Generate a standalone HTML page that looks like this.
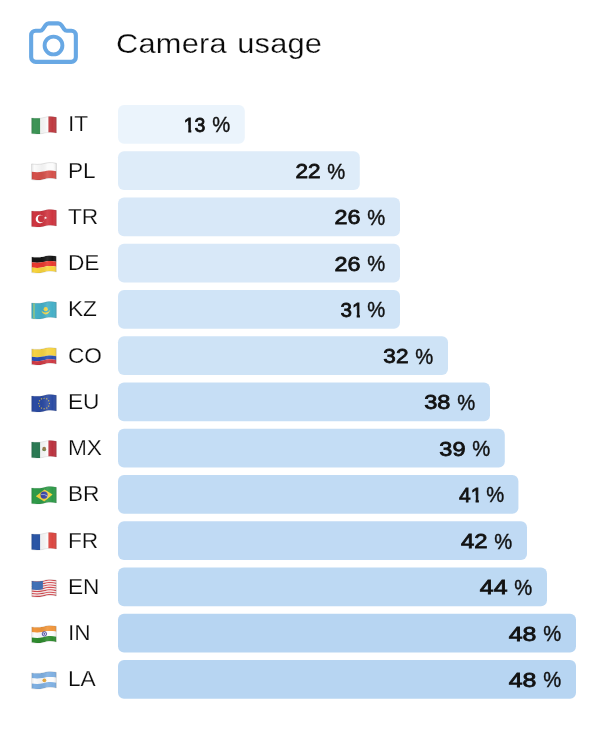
<!DOCTYPE html>
<html lang="en"><head><meta charset="utf-8"><title>Camera usage</title>
<style>
html,body{margin:0;padding:0;background:#fff}
body{width:600px;height:740px;position:relative;overflow:hidden;font-family:"Liberation Sans",sans-serif;color:#111}
.icon{position:absolute;left:27px;top:18px}
h1{position:absolute;left:116px;top:27.4px;margin:0;font-size:28.5px;line-height:32px;font-weight:400;letter-spacing:0.2px;word-spacing:1.6px;white-space:nowrap;color:#0a0a0a;-webkit-text-stroke:.25px #fff;transform:scaleX(1.08);transform-origin:0 50%}
.row{position:absolute;left:0;width:600px;height:38.75px}
.flag{position:absolute;left:30.5px;top:10px;overflow:visible;filter:blur(.3px)}
.lbl{position:absolute;left:68px;top:-.6px;height:38.75px;line-height:38.75px;font-size:22.7px;letter-spacing:-.1px;color:#0c0c0c;-webkit-text-stroke:.25px #fff;white-space:nowrap}
.bars{position:absolute;left:0;top:0}
.val{position:absolute;top:1.3px;height:38.75px;line-height:38.75px;font-size:21.5px;white-space:nowrap;color:#111;word-spacing:-.3px;-webkit-text-stroke:.4px #111}
.val b{display:inline-block;font-weight:400;font-size:20.2px;line-height:1;position:relative;top:-.5px;transform-origin:100% 50%;-webkit-text-stroke:.8px #111}
.val b.l1{clip-path:polygon(0 0,100% 0,100% 100%,.55em 100%,.55em .5em,.385em .5em,.385em 100%,.228em 100%,.228em .5em,0 .5em)}
.val b.t1{margin-right:-3.1px;clip-path:polygon(0 0,100% 0,100% .5em,.941em .5em,.941em 100%,.784em 100%,.784em .5em,.575em .5em,.575em 100%,0 100%)}
.val .pc{display:inline-block;transform:scaleX(.94);transform-origin:100% 50%}
</style></head><body>
<svg width="0" height="0" style="position:absolute"><defs><linearGradient id="shade" x1="0" y1="0" x2="1" y2="0"><stop offset="0" stop-color="#000" stop-opacity=".10"/><stop offset=".12" stop-color="#000" stop-opacity="0"/><stop offset=".38" stop-color="#000" stop-opacity=".04"/><stop offset=".6" stop-color="#fff" stop-opacity=".10"/><stop offset=".8" stop-color="#fff" stop-opacity="0"/><stop offset="1" stop-color="#000" stop-opacity=".22"/></linearGradient></defs></svg>
<svg class="icon" width="54" height="50" viewBox="27 18 54 50" fill="none" stroke="rgb(104,168,228)" stroke-width="4.1" stroke-linejoin="round" stroke-linecap="round">
<path d="M31.15 35.25a4.5 4.5 0 0 1 4.5-4.5H40.2q1.6 0 2.5-1.3L45.6 25.1q1.2-1.75 3.2-1.75H58.2q2 0 3.2 1.75L64.3 29.45q.9 1.3 2.5 1.3H71.35a4.5 4.5 0 0 1 4.5 4.5V57.35a4.5 4.5 0 0 1-4.5 4.5H35.65a4.5 4.5 0 0 1-4.5-4.5Z"/>
<circle cx="53.5" cy="45.5" r="8.9" stroke-width="3.9"/>
</svg>
<h1>Camera usage</h1>
<svg class="bars" width="600" height="740" viewBox="0 0 600 740" fill="rgb(104,168,228)"><rect x="118" y="105.00" width="126.8" height="38.75" rx="6" fill-opacity="0.13"/><rect x="118" y="151.25" width="241.8" height="38.75" rx="6" fill-opacity="0.22"/><rect x="118" y="197.50" width="282.0" height="38.75" rx="6" fill-opacity="0.26"/><rect x="118" y="243.75" width="282.0" height="38.75" rx="6" fill-opacity="0.26"/><rect x="118" y="290.00" width="282.0" height="38.75" rx="6" fill-opacity="0.31"/><rect x="118" y="336.25" width="330.0" height="38.75" rx="6" fill-opacity="0.32"/><rect x="118" y="382.50" width="372.0" height="38.75" rx="6" fill-opacity="0.38"/><rect x="118" y="428.75" width="386.8" height="38.75" rx="6" fill-opacity="0.39"/><rect x="118" y="475.00" width="400.4" height="38.75" rx="6" fill-opacity="0.41"/><rect x="118" y="521.25" width="409.0" height="38.75" rx="6" fill-opacity="0.42"/><rect x="118" y="567.50" width="429.0" height="38.75" rx="6" fill-opacity="0.44"/><rect x="118" y="613.75" width="458.0" height="38.75" rx="6" fill-opacity="0.48"/><rect x="118" y="660.00" width="458.0" height="38.75" rx="6" fill-opacity="0.48"/></svg>
<div class="row" style="top:105.00px">
<svg class="flag" viewBox="0 0 27 20" width="27" height="20"><defs><clipPath id="wit"><path d="M0.6 2.9C4.5 3.5 8 3.6 12 2.7S19.6 0.9 25.4 2.3L25.4 18C19.6 16.6 16 17.5 12 18.4S4.5 19.2 0.6 18.6Z"/></clipPath></defs><g clip-path="url(#wit)"><rect x="0" y="0" width="9.3" height="20" fill="#3d9556"/><rect x="9.3" y="0" width="8.1" height="20" fill="#fbfbfb"/><rect x="17.4" y="0" width="9.6" height="20" fill="#bf3a40"/><rect x="0" y="0" width="27" height="20" fill="url(#shade)"/></g><path d="M0.6 2.9C4.5 3.5 8 3.6 12 2.7S19.6 0.9 25.4 2.3L25.4 18C19.6 16.6 16 17.5 12 18.4S4.5 19.2 0.6 18.6Z" fill="none" stroke="#000" stroke-opacity="0.16" stroke-width=".5"/></svg>
<span class="lbl">IT</span>
<span class="val" style="right:369.8px"><b class="l1" style="transform:scaleX(0.965)">13</b> <span class="pc">%</span></span>
</div>
<div class="row" style="top:151.25px">
<svg class="flag" viewBox="0 0 27 20" width="27" height="20"><defs><clipPath id="wpl"><path d="M0.6 2.9C4.5 3.5 8 3.6 12 2.7S19.6 0.9 25.4 2.3L25.4 18C19.6 16.6 16 17.5 12 18.4S4.5 19.2 0.6 18.6Z"/></clipPath></defs><g clip-path="url(#wpl)"><path d="M0.6 2.9C4.5 3.5 8 3.6 12 2.7S19.6 0.9 25.4 2.3L25.4 10.15C19.6 8.75 16 9.65 12 10.55S4.5 11.35 0.6 10.75Z" fill="#fbfbfb"/><path d="M0.6 10.75C4.5 11.35 8 11.45 12 10.55S19.6 8.75 25.4 10.15L25.4 18C19.6 16.6 16 17.5 12 18.4S4.5 19.2 0.6 18.6Z" fill="#d5504a"/><rect x="0" y="0" width="27" height="20" fill="url(#shade)"/></g><path d="M0.6 2.9C4.5 3.5 8 3.6 12 2.7S19.6 0.9 25.4 2.3L25.4 18C19.6 16.6 16 17.5 12 18.4S4.5 19.2 0.6 18.6Z" fill="none" stroke="#000" stroke-opacity="0.22" stroke-width=".5"/></svg>
<span class="lbl">PL</span>
<span class="val" style="right:254.8px"><b style="transform:scaleX(1.115)">22</b> <span class="pc">%</span></span>
</div>
<div class="row" style="top:197.50px">
<svg class="flag" viewBox="0 0 27 20" width="27" height="20"><defs><clipPath id="wtr"><path d="M0.6 2.9C4.5 3.5 8 3.6 12 2.7S19.6 0.9 25.4 2.3L25.4 18C19.6 16.6 16 17.5 12 18.4S4.5 19.2 0.6 18.6Z"/></clipPath></defs><g clip-path="url(#wtr)"><rect width="27" height="20" fill="#cf3540"/><circle cx="9" cy="11" r="4.3" fill="#fff"/><circle cx="10.4" cy="10.8" r="3.45" fill="#cf3540"/><polygon points="14.1,8.23 14.71,9.26 15.9,9.1 15.11,10 15.62,11.08 14.52,10.6 13.65,11.43 13.77,10.24 12.72,9.66 13.89,9.4" fill="#fff"/><rect x="0" y="0" width="27" height="20" fill="url(#shade)"/></g><path d="M0.6 2.9C4.5 3.5 8 3.6 12 2.7S19.6 0.9 25.4 2.3L25.4 18C19.6 16.6 16 17.5 12 18.4S4.5 19.2 0.6 18.6Z" fill="none" stroke="#000" stroke-opacity="0.16" stroke-width=".5"/></svg>
<span class="lbl">TR</span>
<span class="val" style="right:214.6px"><b style="transform:scaleX(1.154)">26</b> <span class="pc">%</span></span>
</div>
<div class="row" style="top:243.75px">
<svg class="flag" viewBox="0 0 27 20" width="27" height="20"><defs><clipPath id="wde"><path d="M0.6 2.9C4.5 3.5 8 3.6 12 2.7S19.6 0.9 25.4 2.3L25.4 18C19.6 16.6 16 17.5 12 18.4S4.5 19.2 0.6 18.6Z"/></clipPath></defs><g clip-path="url(#wde)"><path d="M0.6 2.9C4.5 3.5 8 3.6 12 2.7S19.6 0.9 25.4 2.3L25.4 7.64C19.6 6.24 16 7.14 12 8.04S4.5 8.84 0.6 8.24Z" fill="#151515"/><path d="M0.6 8.24C4.5 8.84 8 8.94 12 8.04S19.6 6.24 25.4 7.64L25.4 12.82C19.6 11.42 16 12.32 12 13.22S4.5 14.02 0.6 13.42Z" fill="#e9392f"/><path d="M0.6 13.42C4.5 14.02 8 14.12 12 13.22S19.6 11.42 25.4 12.82L25.4 18C19.6 16.6 16 17.5 12 18.4S4.5 19.2 0.6 18.6Z" fill="#f8d43d"/><rect x="0" y="0" width="27" height="20" fill="url(#shade)"/></g><path d="M0.6 2.9C4.5 3.5 8 3.6 12 2.7S19.6 0.9 25.4 2.3L25.4 18C19.6 16.6 16 17.5 12 18.4S4.5 19.2 0.6 18.6Z" fill="none" stroke="#000" stroke-opacity="0.16" stroke-width=".5"/></svg>
<span class="lbl">DE</span>
<span class="val" style="right:214.6px"><b style="transform:scaleX(1.154)">26</b> <span class="pc">%</span></span>
</div>
<div class="row" style="top:290.00px">
<svg class="flag" viewBox="0 0 27 20" width="27" height="20"><defs><clipPath id="wkz"><path d="M0.6 2.9C4.5 3.5 8 3.6 12 2.7S19.6 0.9 25.4 2.3L25.4 18C19.6 16.6 16 17.5 12 18.4S4.5 19.2 0.6 18.6Z"/></clipPath></defs><g clip-path="url(#wkz)"><rect width="27" height="20" fill="#45b0c8"/><rect x="2.1" y="0" width="1.7" height="20" fill="#8cc48a"/><circle cx="14.7" cy="9.2" r="2.1" fill="#f7d545"/><path d="M10.4 10.6Q11.5 14.6 14.8 14.4Q18.2 14 19.3 9.8Q17.6 12.4 14.8 12.6Q12 12.8 10.4 10.6Z" fill="#f3d54a"/><rect x="0" y="0" width="27" height="20" fill="url(#shade)"/></g><path d="M0.6 2.9C4.5 3.5 8 3.6 12 2.7S19.6 0.9 25.4 2.3L25.4 18C19.6 16.6 16 17.5 12 18.4S4.5 19.2 0.6 18.6Z" fill="none" stroke="#000" stroke-opacity="0.16" stroke-width=".5"/></svg>
<span class="lbl">KZ</span>
<span class="val" style="right:214.6px"><b class="t1" style="transform:scaleX(1.021)">31</b> <span class="pc">%</span></span>
</div>
<div class="row" style="top:336.25px">
<svg class="flag" viewBox="0 0 27 20" width="27" height="20"><defs><clipPath id="wco"><path d="M0.6 2.9C4.5 3.5 8 3.6 12 2.7S19.6 0.9 25.4 2.3L25.4 18C19.6 16.6 16 17.5 12 18.4S4.5 19.2 0.6 18.6Z"/></clipPath></defs><g clip-path="url(#wco)"><path d="M0.6 2.9C4.5 3.5 8 3.6 12 2.7S19.6 0.9 25.4 2.3L25.4 10.15C19.6 8.75 16 9.65 12 10.55S4.5 11.35 0.6 10.75Z" fill="#f6d343"/><path d="M0.6 10.75C4.5 11.35 8 11.45 12 10.55S19.6 8.75 25.4 10.15L25.4 14.07C19.6 12.67 16 13.57 12 14.47S4.5 15.27 0.6 14.67Z" fill="#2a4fb2"/><path d="M0.6 14.67C4.5 15.27 8 15.37 12 14.47S19.6 12.67 25.4 14.07L25.4 18C19.6 16.6 16 17.5 12 18.4S4.5 19.2 0.6 18.6Z" fill="#cf3a44"/><rect x="0" y="0" width="27" height="20" fill="url(#shade)"/></g><path d="M0.6 2.9C4.5 3.5 8 3.6 12 2.7S19.6 0.9 25.4 2.3L25.4 18C19.6 16.6 16 17.5 12 18.4S4.5 19.2 0.6 18.6Z" fill="none" stroke="#000" stroke-opacity="0.16" stroke-width=".5"/></svg>
<span class="lbl">CO</span>
<span class="val" style="right:166.6px"><b style="transform:scaleX(1.117)">32</b> <span class="pc">%</span></span>
</div>
<div class="row" style="top:382.50px">
<svg class="flag" viewBox="0 0 27 20" width="27" height="20"><defs><clipPath id="weu"><path d="M0.6 2.9C4.5 3.5 8 3.6 12 2.7S19.6 0.9 25.4 2.3L25.4 18C19.6 16.6 16 17.5 12 18.4S4.5 19.2 0.6 18.6Z"/></clipPath></defs><g clip-path="url(#weu)"><rect width="27" height="20" fill="#2b4ba3"/><polygon points="13.1,4.25 13.33,4.88 14,4.91 13.48,5.32 13.66,5.97 13.1,5.6 12.54,5.97 12.72,5.32 12.2,4.91 12.87,4.88" fill="#f2cf45"/><polygon points="15.75,4.96 15.98,5.59 16.65,5.62 16.13,6.03 16.31,6.68 15.75,6.31 15.19,6.68 15.37,6.03 14.85,5.62 15.52,5.59" fill="#f2cf45"/><polygon points="17.69,6.9 17.92,7.53 18.59,7.56 18.07,7.97 18.25,8.62 17.69,8.25 17.13,8.62 17.31,7.97 16.79,7.56 17.46,7.53" fill="#f2cf45"/><polygon points="18.4,9.55 18.63,10.18 19.3,10.21 18.78,10.62 18.96,11.27 18.4,10.9 17.84,11.27 18.02,10.62 17.5,10.21 18.17,10.18" fill="#f2cf45"/><polygon points="17.69,12.2 17.92,12.83 18.59,12.86 18.07,13.27 18.25,13.92 17.69,13.55 17.13,13.92 17.31,13.27 16.79,12.86 17.46,12.83" fill="#f2cf45"/><polygon points="15.75,14.14 15.98,14.77 16.65,14.8 16.13,15.21 16.31,15.86 15.75,15.49 15.19,15.86 15.37,15.21 14.85,14.8 15.52,14.77" fill="#f2cf45"/><polygon points="13.1,14.85 13.33,15.48 14,15.51 13.48,15.92 13.66,16.57 13.1,16.2 12.54,16.57 12.72,15.92 12.2,15.51 12.87,15.48" fill="#f2cf45"/><polygon points="10.45,14.14 10.68,14.77 11.35,14.8 10.83,15.21 11.01,15.86 10.45,15.49 9.89,15.86 10.07,15.21 9.55,14.8 10.22,14.77" fill="#f2cf45"/><polygon points="8.51,12.2 8.74,12.83 9.41,12.86 8.89,13.27 9.07,13.92 8.51,13.55 7.95,13.92 8.13,13.27 7.61,12.86 8.28,12.83" fill="#f2cf45"/><polygon points="7.8,9.55 8.03,10.18 8.7,10.21 8.18,10.62 8.36,11.27 7.8,10.9 7.24,11.27 7.42,10.62 6.9,10.21 7.57,10.18" fill="#f2cf45"/><polygon points="8.51,6.9 8.74,7.53 9.41,7.56 8.89,7.97 9.07,8.62 8.51,8.25 7.95,8.62 8.13,7.97 7.61,7.56 8.28,7.53" fill="#f2cf45"/><polygon points="10.45,4.96 10.68,5.59 11.35,5.62 10.83,6.03 11.01,6.68 10.45,6.31 9.89,6.68 10.07,6.03 9.55,5.62 10.22,5.59" fill="#f2cf45"/><rect x="0" y="0" width="27" height="20" fill="url(#shade)"/></g><path d="M0.6 2.9C4.5 3.5 8 3.6 12 2.7S19.6 0.9 25.4 2.3L25.4 18C19.6 16.6 16 17.5 12 18.4S4.5 19.2 0.6 18.6Z" fill="none" stroke="#000" stroke-opacity="0.16" stroke-width=".5"/></svg>
<span class="lbl">EU</span>
<span class="val" style="right:124.6px"><b style="transform:scaleX(1.169)">38</b> <span class="pc">%</span></span>
</div>
<div class="row" style="top:428.75px">
<svg class="flag" viewBox="0 0 27 20" width="27" height="20"><defs><clipPath id="wmx"><path d="M0.6 2.9C4.5 3.5 8 3.6 12 2.7S19.6 0.9 25.4 2.3L25.4 18C19.6 16.6 16 17.5 12 18.4S4.5 19.2 0.6 18.6Z"/></clipPath></defs><g clip-path="url(#wmx)"><rect x="0" y="0" width="9.3" height="20" fill="#2c7b55"/><rect x="9.3" y="0" width="8.1" height="20" fill="#fafafa"/><rect x="17.4" y="0" width="9.6" height="20" fill="#bb323f"/><ellipse cx="13.2" cy="9.9" rx="1.9" ry="2.2" fill="#9a7a4a"/><path d="M11.2 10.6q2 2.4 4 0" stroke="#5d8f4a" stroke-width=".8" fill="none"/><rect x="0" y="0" width="27" height="20" fill="url(#shade)"/></g><path d="M0.6 2.9C4.5 3.5 8 3.6 12 2.7S19.6 0.9 25.4 2.3L25.4 18C19.6 16.6 16 17.5 12 18.4S4.5 19.2 0.6 18.6Z" fill="none" stroke="#000" stroke-opacity="0.16" stroke-width=".5"/></svg>
<span class="lbl">MX</span>
<span class="val" style="right:109.8px"><b style="transform:scaleX(1.164)">39</b> <span class="pc">%</span></span>
</div>
<div class="row" style="top:475.00px">
<svg class="flag" viewBox="0 0 27 20" width="27" height="20"><defs><clipPath id="wbr"><path d="M0.6 2.9C4.5 3.5 8 3.6 12 2.7S19.6 0.9 25.4 2.3L25.4 18C19.6 16.6 16 17.5 12 18.4S4.5 19.2 0.6 18.6Z"/></clipPath></defs><g clip-path="url(#wbr)"><rect width="27" height="20" fill="#2f9b49"/><polygon points="4.8,11.3 13.5,4.5 21.6,9.5 13.2,16.6" fill="#f4d23c"/><circle cx="13.1" cy="10.1" r="3.6" fill="#3a47a8"/><path d="M10.1 9.6Q13.6 8.6 16.9 11.4" stroke="#c9d2ee" stroke-width=".7" fill="none"/><rect x="0" y="0" width="27" height="20" fill="url(#shade)"/></g><path d="M0.6 2.9C4.5 3.5 8 3.6 12 2.7S19.6 0.9 25.4 2.3L25.4 18C19.6 16.6 16 17.5 12 18.4S4.5 19.2 0.6 18.6Z" fill="none" stroke="#000" stroke-opacity="0.16" stroke-width=".5"/></svg>
<span class="lbl">BR</span>
<span class="val" style="right:96.2px"><b class="t1" style="transform:scaleX(1.042)">41</b> <span class="pc">%</span></span>
</div>
<div class="row" style="top:521.25px">
<svg class="flag" viewBox="0 0 27 20" width="27" height="20"><defs><clipPath id="wfr"><path d="M0.6 2.9C4.5 3.5 8 3.6 12 2.7S19.6 0.9 25.4 2.3L25.4 18C19.6 16.6 16 17.5 12 18.4S4.5 19.2 0.6 18.6Z"/></clipPath></defs><g clip-path="url(#wfr)"><rect x="0" y="0" width="9.3" height="20" fill="#2b57a7"/><rect x="9.3" y="0" width="8.1" height="20" fill="#fafafa"/><rect x="17.4" y="0" width="9.6" height="20" fill="#db4640"/><rect x="0" y="0" width="27" height="20" fill="url(#shade)"/></g><path d="M0.6 2.9C4.5 3.5 8 3.6 12 2.7S19.6 0.9 25.4 2.3L25.4 18C19.6 16.6 16 17.5 12 18.4S4.5 19.2 0.6 18.6Z" fill="none" stroke="#000" stroke-opacity="0.16" stroke-width=".5"/></svg>
<span class="lbl">FR</span>
<span class="val" style="right:87.6px"><b style="transform:scaleX(1.183)">42</b> <span class="pc">%</span></span>
</div>
<div class="row" style="top:567.50px">
<svg class="flag" viewBox="0 0 27 20" width="27" height="20"><defs><clipPath id="wen"><path d="M0.6 2.9C4.5 3.5 8 3.6 12 2.7S19.6 0.9 25.4 2.3L25.4 18C19.6 16.6 16 17.5 12 18.4S4.5 19.2 0.6 18.6Z"/></clipPath></defs><g clip-path="url(#wen)"><path d="M0.6 2.9C4.5 3.5 8 3.6 12 2.7S19.6 0.9 25.4 2.3L25.4 3.59C19.6 2.19 16 3.09 12 3.99S4.5 4.79 0.6 4.19Z" fill="#d24a50"/><path d="M0.6 4.11C4.5 4.71 8 4.81 12 3.91S19.6 2.11 25.4 3.51L25.4 4.79C19.6 3.39 16 4.29 12 5.19S4.5 5.99 0.6 5.39Z" fill="#f7ecec"/><path d="M0.6 5.32C4.5 5.92 8 6.02 12 5.12S19.6 3.32 25.4 4.72L25.4 6C19.6 4.6 16 5.5 12 6.4S4.5 7.2 0.6 6.6Z" fill="#d24a50"/><path d="M0.6 6.52C4.5 7.12 8 7.22 12 6.32S19.6 4.52 25.4 5.92L25.4 7.21C19.6 5.81 16 6.71 12 7.61S4.5 8.41 0.6 7.81Z" fill="#f7ecec"/><path d="M0.6 7.73C4.5 8.33 8 8.43 12 7.53S19.6 5.73 25.4 7.13L25.4 8.42C19.6 7.02 16 7.92 12 8.82S4.5 9.62 0.6 9.02Z" fill="#d24a50"/><path d="M0.6 8.94C4.5 9.54 8 9.64 12 8.74S19.6 6.94 25.4 8.34L25.4 9.62C19.6 8.22 16 9.12 12 10.02S4.5 10.82 0.6 10.22Z" fill="#f7ecec"/><path d="M0.6 10.15C4.5 10.75 8 10.85 12 9.95S19.6 8.15 25.4 9.55L25.4 10.83C19.6 9.43 16 10.33 12 11.23S4.5 12.03 0.6 11.43Z" fill="#d24a50"/><path d="M0.6 11.35C4.5 11.95 8 12.05 12 11.15S19.6 9.35 25.4 10.75L25.4 12.04C19.6 10.64 16 11.54 12 12.44S4.5 13.24 0.6 12.64Z" fill="#f7ecec"/><path d="M0.6 12.56C4.5 13.16 8 13.26 12 12.36S19.6 10.56 25.4 11.96L25.4 13.25C19.6 11.85 16 12.75 12 13.65S4.5 14.45 0.6 13.85Z" fill="#d24a50"/><path d="M0.6 13.77C4.5 14.37 8 14.47 12 13.57S19.6 11.77 25.4 13.17L25.4 14.46C19.6 13.06 16 13.96 12 14.86S4.5 15.66 0.6 15.06Z" fill="#f7ecec"/><path d="M0.6 14.98C4.5 15.58 8 15.68 12 14.78S19.6 12.98 25.4 14.38L25.4 15.66C19.6 14.26 16 15.16 12 16.06S4.5 16.86 0.6 16.26Z" fill="#d24a50"/><path d="M0.6 16.18C4.5 16.78 8 16.88 12 15.98S19.6 14.18 25.4 15.58L25.4 16.87C19.6 15.47 16 16.37 12 17.27S4.5 18.07 0.6 17.47Z" fill="#f7ecec"/><path d="M0.6 17.39C4.5 17.99 8 18.09 12 17.19S19.6 15.39 25.4 16.79L25.4 18.08C19.6 16.68 16 17.58 12 18.48S4.5 19.28 0.6 18.68Z" fill="#d24a50"/><path d="M0.6 3C4 3.5 8 3.6 11.9 2.8V11.3C8 12.1 4 12 0.6 11.5Z" fill="#4272b8"/><rect x="0" y="0" width="27" height="20" fill="url(#shade)"/></g><path d="M0.6 2.9C4.5 3.5 8 3.6 12 2.7S19.6 0.9 25.4 2.3L25.4 18C19.6 16.6 16 17.5 12 18.4S4.5 19.2 0.6 18.6Z" fill="none" stroke="#000" stroke-opacity="0.16" stroke-width=".5"/></svg>
<span class="lbl">EN</span>
<span class="val" style="right:67.6px"><b style="transform:scaleX(1.229)">44</b> <span class="pc">%</span></span>
</div>
<div class="row" style="top:613.75px">
<svg class="flag" viewBox="0 0 27 20" width="27" height="20"><defs><clipPath id="win"><path d="M0.6 2.9C4.5 3.5 8 3.6 12 2.7S19.6 0.9 25.4 2.3L25.4 18C19.6 16.6 16 17.5 12 18.4S4.5 19.2 0.6 18.6Z"/></clipPath></defs><g clip-path="url(#win)"><path d="M0.6 2.9C4.5 3.5 8 3.6 12 2.7S19.6 0.9 25.4 2.3L25.4 7.64C19.6 6.24 16 7.14 12 8.04S4.5 8.84 0.6 8.24Z" fill="#f1963b"/><path d="M0.6 8.24C4.5 8.84 8 8.94 12 8.04S19.6 6.24 25.4 7.64L25.4 12.82C19.6 11.42 16 12.32 12 13.22S4.5 14.02 0.6 13.42Z" fill="#fbfbfb"/><path d="M0.6 13.42C4.5 14.02 8 14.12 12 13.22S19.6 11.42 25.4 12.82L25.4 18C19.6 16.6 16 17.5 12 18.4S4.5 19.2 0.6 18.6Z" fill="#2f8c2f"/><circle cx="13.4" cy="9.9" r="2.2" fill="#dfe0f3" stroke="#3d3f9e" stroke-width=".9"/><circle cx="13.4" cy="9.9" r=".8" fill="#3d3f9e"/><rect x="0" y="0" width="27" height="20" fill="url(#shade)"/></g><path d="M0.6 2.9C4.5 3.5 8 3.6 12 2.7S19.6 0.9 25.4 2.3L25.4 18C19.6 16.6 16 17.5 12 18.4S4.5 19.2 0.6 18.6Z" fill="none" stroke="#000" stroke-opacity="0.16" stroke-width=".5"/></svg>
<span class="lbl">IN</span>
<span class="val" style="right:38.6px"><b style="transform:scaleX(1.234)">48</b> <span class="pc">%</span></span>
</div>
<div class="row" style="top:660.00px">
<svg class="flag" viewBox="0 0 27 20" width="27" height="20"><defs><clipPath id="wla"><path d="M0.6 2.9C4.5 3.5 8 3.6 12 2.7S19.6 0.9 25.4 2.3L25.4 18C19.6 16.6 16 17.5 12 18.4S4.5 19.2 0.6 18.6Z"/></clipPath></defs><g clip-path="url(#wla)"><path d="M0.6 2.9C4.5 3.5 8 3.6 12 2.7S19.6 0.9 25.4 2.3L25.4 7.64C19.6 6.24 16 7.14 12 8.04S4.5 8.84 0.6 8.24Z" fill="#7fb0e2"/><path d="M0.6 8.24C4.5 8.84 8 8.94 12 8.04S19.6 6.24 25.4 7.64L25.4 12.82C19.6 11.42 16 12.32 12 13.22S4.5 14.02 0.6 13.42Z" fill="#fbfbfb"/><path d="M0.6 13.42C4.5 14.02 8 14.12 12 13.22S19.6 11.42 25.4 12.82L25.4 18C19.6 16.6 16 17.5 12 18.4S4.5 19.2 0.6 18.6Z" fill="#7fb0e2"/><circle cx="13.4" cy="10.3" r="1.9" fill="#e9a93b"/><rect x="0" y="0" width="27" height="20" fill="url(#shade)"/></g><path d="M0.6 2.9C4.5 3.5 8 3.6 12 2.7S19.6 0.9 25.4 2.3L25.4 18C19.6 16.6 16 17.5 12 18.4S4.5 19.2 0.6 18.6Z" fill="none" stroke="#000" stroke-opacity="0.16" stroke-width=".5"/></svg>
<span class="lbl">LA</span>
<span class="val" style="right:38.6px"><b style="transform:scaleX(1.234)">48</b> <span class="pc">%</span></span>
</div>
</body></html>
